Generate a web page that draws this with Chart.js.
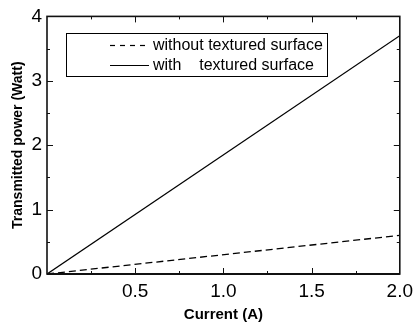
<!DOCTYPE html>
<html lang="en">
  <head>
    <meta charset="UTF-8" />
    <title>Transmitted power vs current</title>
    <script src="https://cdn.jsdelivr.net/npm/chart.js"></script>
    <style>
      html, body { margin: 0; padding: 0; background: #fff; }
      #wrap { width: 419px; height: 328px; }
    </style>
  </head>
  <body>
    <div id="wrap"><canvas id="chartPower"></canvas></div>
    <script>
      // Datos
      var current = [0, 2.0];
      var withoutTextured = [0, 0.6];
      var withTextured = [0, 3.7];
      var xTicks = [0.5, 1.0, 1.5, 2.0];
      var yTicks = [0, 1, 2, 3, 4];
      var seriesNames = ['without textured surface', 'with    textured surface'];

      function toPoints(xs, ys) {
        return xs.map(function (x, i) { return { x: x, y: ys[i] }; });
      }

      var FONT = 'Arial, "Liberation Sans", sans-serif';

      // marco, ticks hacia adentro y leyenda
      var framePlugin = {
        id: 'frame',
        afterDraw: function (chart) {
          var ctx = chart.ctx;
          var a = chart.chartArea;
          var sx = chart.scales.x, sy = chart.scales.y;
          ctx.save();
          ctx.strokeStyle = '#111';
          ctx.lineWidth = 1;
          var v, p, len;
          ctx.beginPath();
          for (v = 0.25; v < 2.0; v += 0.25) {
            p = Math.round(sx.getPixelForValue(v)) + 0.5;
            len = (Math.abs(v * 2 - Math.round(v * 2)) < 1e-6) ? 6 : 3;
            ctx.moveTo(p, a.bottom); ctx.lineTo(p, a.bottom - len);
            ctx.moveTo(p, a.top); ctx.lineTo(p, a.top + len);
          }
          for (v = 0.5; v < 4; v += 0.5) {
            p = Math.round(sy.getPixelForValue(v)) + 0.5;
            len = (v % 1 === 0) ? 6 : 3;
            ctx.moveTo(a.left, p); ctx.lineTo(a.left + len, p);
            ctx.moveTo(a.right, p); ctx.lineTo(a.right - len, p);
          }
          ctx.stroke();
          ctx.lineWidth = 1.6;
          ctx.strokeRect(a.left, a.top, a.right - a.left, a.bottom - a.top);
          ctx.beginPath();
          ctx.lineWidth = 2;
          ctx.moveTo(a.left, a.bottom); ctx.lineTo(a.right, a.bottom);
          ctx.stroke();

          // leyenda
          var bx = 66, by = 33, bw = 261, bh = 43;
          ctx.lineWidth = 1;
          ctx.strokeStyle = '#000';
          ctx.strokeRect(bx + 0.5, by + 0.5, bw, bh);
          var rows = [by + 12, by + 32];
          ctx.font = '16px ' + FONT;
          ctx.fillStyle = '#000';
          ctx.textBaseline = 'middle';
          rows.forEach(function (ry, i) {
            ctx.beginPath();
            ctx.setLineDash(i === 0 ? [5, 5] : []);
            ctx.lineWidth = 1.2;
            ctx.moveTo(110, ry + 0.5); ctx.lineTo(149, ry + 0.5);
            ctx.stroke();
            ctx.setLineDash([]);
            ctx.fillText(seriesNames[i], 153, ry + 1);
          });
          ctx.restore();
        }
      };

      var ctxPower = document.getElementById('chartPower').getContext('2d');
      var chartPower = new Chart(ctxPower, {
        type: 'scatter',
        data: {
          datasets: [
            {
              label: seriesNames[0],
              data: toPoints(current, withoutTextured),
              showLine: true,
              borderColor: '#000',
              borderWidth: 1.3,
              borderDash: [7, 4],
              pointRadius: 0
            },
            {
              label: seriesNames[1],
              data: toPoints(current, withTextured),
              showLine: true,
              borderColor: '#000',
              borderWidth: 1.3,
              pointRadius: 0
            }
          ]
        },
        options: {
          responsive: false,
          animation: false,
          maintainAspectRatio: false,
          layout: { padding: { top: 14, right: 18, left: 0, bottom: 0 } },
          plugins: {
            legend: { display: false },
            tooltip: { enabled: false }
          },
          scales: {
            x: {
              type: 'linear',
              min: 0,
              max: 2.0,
              afterBuildTicks: function (s) {
                s.ticks = xTicks.map(function (v) { return { value: v }; });
              },
              afterFit: function (s) { s.height = 54; },
              ticks: {
                color: '#000',
                font: { family: FONT, size: 19 },
                padding: 6,
                maxRotation: 0,
                callback: function (v) { return v.toFixed(1); }
              },
              grid: { display: false, drawTicks: false },
              border: { display: false },
              title: {
                display: true,
                text: 'Current (A)',
                color: '#000',
                font: { family: FONT, size: 15, weight: 'bold' },
                padding: { top: 0, bottom: 4 }
              }
            },
            y: {
              type: 'linear',
              min: 0,
              max: 4,
              afterBuildTicks: function (s) {
                s.ticks = yTicks.map(function (v) { return { value: v }; });
              },
              afterFit: function (s) { s.width = 47; },
              ticks: {
                color: '#000',
                font: { family: FONT, size: 19 },
                padding: 5
              },
              grid: { display: false, drawTicks: false },
              border: { display: false },
              title: {
                display: true,
                text: 'Transmitted power (Watt)',
                color: '#000',
                font: { family: FONT, size: 14, weight: 'bold' },
                padding: { top: 10, bottom: 0 }
              }
            }
          }
        },
        plugins: [framePlugin]
      });
      chartPower.resize(419, 328);
    </script>
  </body>
</html>
